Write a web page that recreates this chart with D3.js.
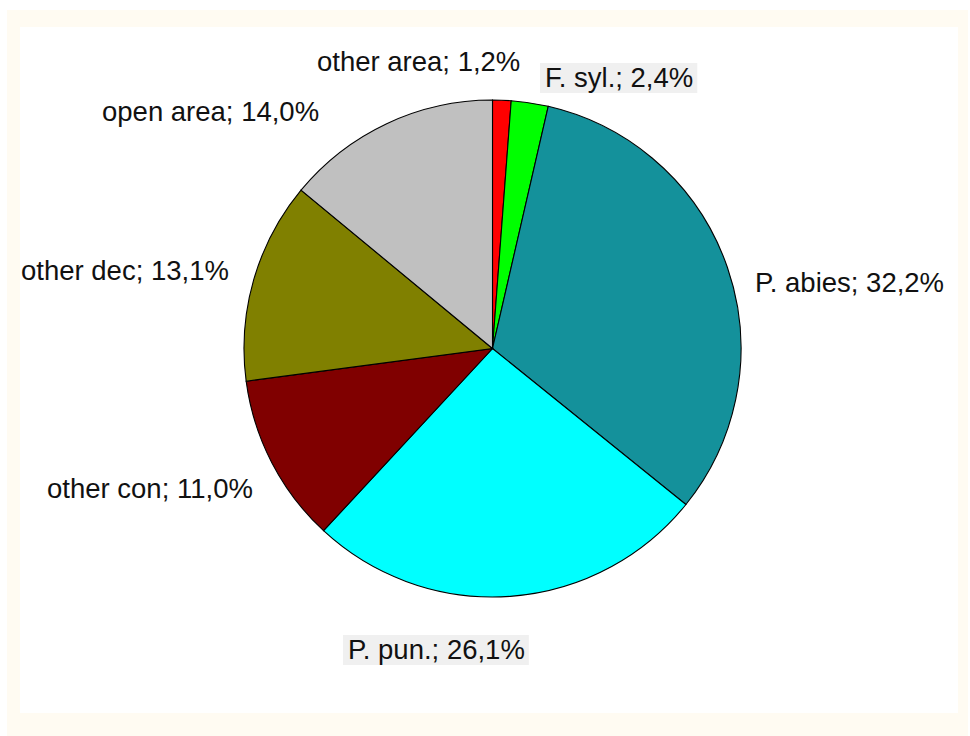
<!DOCTYPE html>
<html>
<head>
<meta charset="utf-8">
<script src="https://cdn.jsdelivr.net/npm/d3@7"></script>
<style>
  html, body { margin: 0; padding: 0; background: #ffffff; }
  svg { display: block; }
  text { font-family: "Liberation Sans", Arial, sans-serif; }
</style>
</head>
<body>
<svg id="chart" width="970" height="736"></svg>
<script>
// Land-cover shares, clockwise from 12 o'clock
const categories = ["other area", "F. syl.", "P. abies", "P. pun.", "other con", "other dec", "open area"];
const shares = [1.2, 2.4, 32.2, 26.1, 11.0, 13.1, 14.0];
const colors = ["#ff0000", "#00ff00", "#14919b", "#00ffff", "#800000", "#808000", "#c0c0c0"];
// Label anchor points (left x, baseline y) and whether the label sits on a shaded box
const labelX = [317, 545, 755, 348, 47, 21, 102];
const labelY = [71, 87, 292, 659, 498, 280, 121];
const labelBox = [false, true, false, true, false, false, false];

const svg = d3.select("#chart");

// Cream frame around the plot area
svg.append("rect").attr("x", 7).attr("y", 10).attr("width", 961).attr("height", 726)
  .attr("fill", "#fffbf2");
svg.append("rect").attr("x", 20).attr("y", 27).attr("width", 938).attr("height", 686)
  .attr("fill", "#ffffff");

const cx = 492.5, cy = 348.5, R = 248.5;
const data = categories.map((c, i) => ({ name: c, value: shares[i], color: colors[i], i }));

const pie = d3.pie().value(d => d.value).sort(null);
const arc = d3.arc().innerRadius(0).outerRadius(R);

const g = svg.append("g").attr("transform", `translate(${cx},${cy})`);
g.selectAll("path").data(pie(data)).join("path")
  .attr("d", arc)
  .attr("fill", d => d.data.color)
  .attr("stroke", "#000")
  .attr("stroke-width", 1.1);

const fmt = v => d3.format(".1f")(v).replace(".", ",") + "%";

const labels = svg.append("g");
data.forEach((d, i) => {
  const t = labels.append("text")
    .attr("x", labelX[i]).attr("y", labelY[i])
    .attr("font-size", 27.5)
    .attr("fill", "#111")
    .text(`${d.name}; ${fmt(d.value)}`);
  if (labelBox[i]) {
    const b = t.node().getBBox();
    labels.insert("rect", () => t.node())
      .attr("x", b.x - 5).attr("y", b.y + 1)
      .attr("width", b.width + 9).attr("height", b.height - 1)
      .attr("fill", "#f0f0f0");
  }
});
</script>
</body>
</html>
